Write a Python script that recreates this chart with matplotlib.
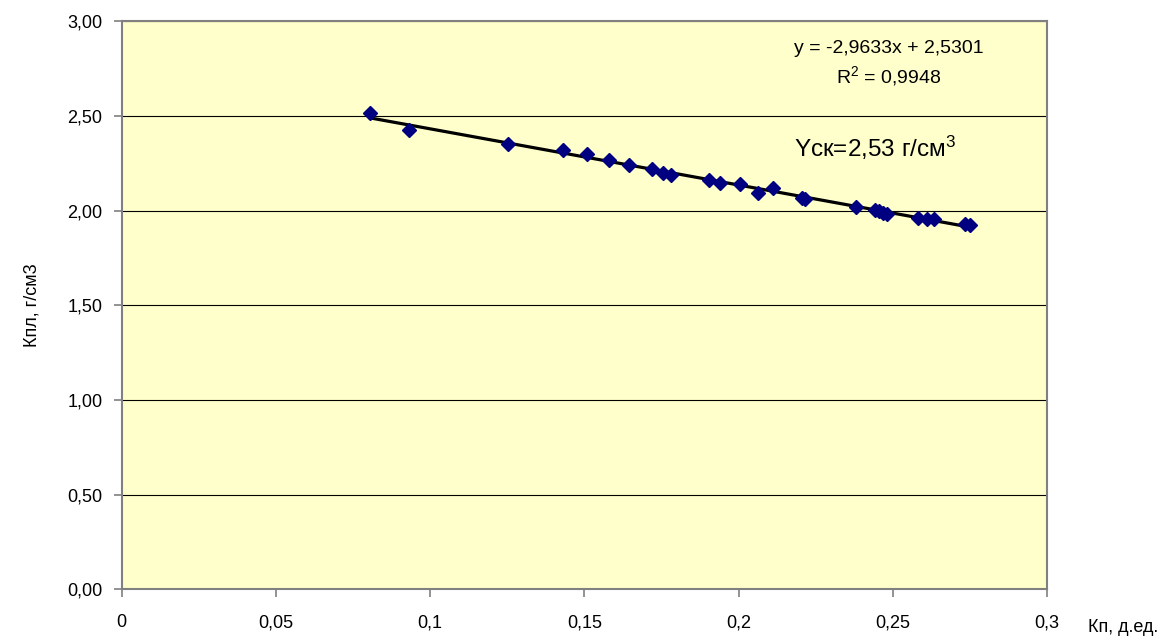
import numpy as np
import matplotlib.pyplot as plt
from matplotlib.ticker import FixedLocator, FuncFormatter

plt.rcParams['font.family'] = ['Liberation Sans', 'DejaVu Sans']

# Кп (д.ед.) и Кпл (г/см3) по образцам
kp = [0.0805, 0.0932, 0.1252, 0.1432, 0.1508, 0.1580, 0.1645, 0.1719, 0.1756,
      0.1781, 0.1904, 0.1940, 0.2003, 0.2064, 0.2111, 0.2205, 0.2216, 0.2380,
      0.2443, 0.2456, 0.2469, 0.2480, 0.2583, 0.2612, 0.2632, 0.2734, 0.2751]
kpl = [2.516, 2.425, 2.350, 2.319, 2.302, 2.270, 2.240, 2.219, 2.200,
       2.191, 2.161, 2.147, 2.140, 2.094, 2.122, 2.068, 2.064, 2.020,
       2.003, 1.997, 1.990, 1.985, 1.962, 1.959, 1.959, 1.929, 1.923]

x_ticks = [0, 0.05, 0.1, 0.15, 0.2, 0.25, 0.3]
y_ticks = [0, 0.5, 1.0, 1.5, 2.0, 2.5, 3.0]

eq_text = 'y = -2,9633x + 2,5301'
r2_text = '$\\mathregular{R^2}$ = 0,9948'
dens_text = 'Yск=2,53 г/см$\\mathregular{^3}$'

fig = plt.figure(figsize=(11.73, 6.39), dpi=100)
ax = fig.add_axes([0.1038, 0.0778, 0.7888, 0.8886])
ax.set_facecolor('#FFFFCC')

ax.set_xlim(0, 0.3)
ax.set_ylim(0, 3)
ax.xaxis.set_major_locator(FixedLocator(x_ticks))
ax.yaxis.set_major_locator(FixedLocator(y_ticks))
ax.xaxis.set_major_formatter(FuncFormatter(lambda v, p: ('%g' % round(v, 3)).replace('.', ',')))
ax.yaxis.set_major_formatter(FuncFormatter(lambda v, p: ('%.2f' % v).replace('.', ',')))

ax.grid(axis='y', color='black', linewidth=0.8)
ax.set_axisbelow(True)
for s in ax.spines.values():
    s.set_color('#808080')
    s.set_linewidth(1.5)
ax.tick_params(direction='out', length=6, width=1.2, color='#808080',
               labelsize=13, pad=8)
ax.tick_params(axis='x', pad=12)

# линейный тренд
k, b = np.polyfit(kp, kpl, 1)
xl = np.array([min(kp), max(kp)])
ax.plot(xl, k * xl + b, color='black', linewidth=2.3, zorder=3)

ax.plot(kp, kpl, linestyle='none', marker='D', markersize=7,
        color='#000080', zorder=4)

ax.text(0.2488, 2.857, eq_text, ha='center', va='center', fontsize=14)
ax.text(0.2488, 2.71, r2_text, ha='center', va='center', fontsize=14)
ax.text(0.2180, 2.331, dens_text, ha='left', va='center', fontsize=17.5)

ax.set_ylabel('Кпл, г/см3', fontsize=13, labelpad=19)
fig.text(1088 / 1173, 1 - 627 / 639, 'Кп, д.ед.', ha='left', va='center', fontsize=13)

fig.savefig('out.png', dpi=100, facecolor='white')
